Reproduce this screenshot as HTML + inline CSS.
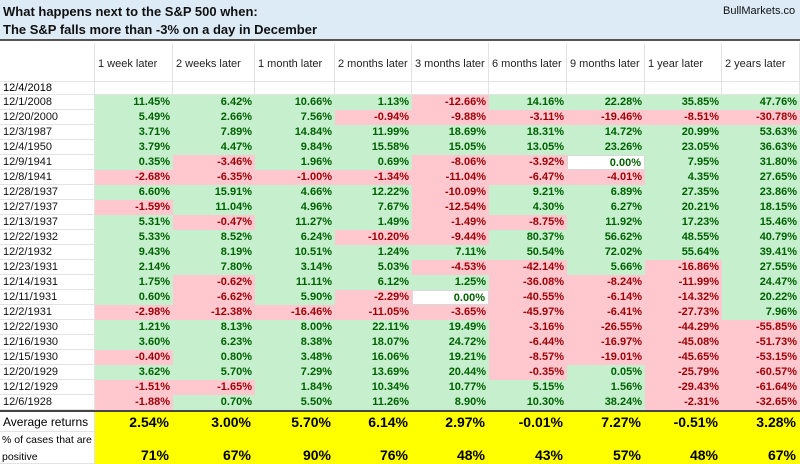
<!DOCTYPE html>
<html><head><meta charset="utf-8"><style>
body{margin:0;width:800px;height:464px;overflow:hidden;background:#fff;font-family:"Liberation Sans",sans-serif;}
#wrap{position:relative;width:800px;height:464px;}
.c{position:absolute;box-sizing:border-box;font-size:11px;white-space:nowrap;overflow:hidden;}
.g{background:#c6efce;color:#006100;font-weight:bold;text-align:right;padding-right:3px;}
.r{background:#ffc7ce;color:#9c0006;font-weight:bold;text-align:right;padding-right:3px;}
.w{background:#fff;color:#006100;font-weight:bold;text-align:right;padding-right:3px;border:1px solid #d9d9d9;}
.e{border-right:1px solid #e3e3e3;border-bottom:1px solid #e3e3e3;}
.y{background:#ffff00;color:#000;font-weight:bold;text-align:right;padding-right:4px;font-size:14px;}
</style></head><body><div id="wrap">
<div class="c" style="left:0;top:0;width:800px;height:41px;background:#ddebf7;border-bottom:2px solid #555;"></div>
<div class="c" style="left:3px;top:3px;font-size:13px;font-weight:bold;color:#111;line-height:18px;">What happens next to the S&amp;P 500 when:<br>The S&amp;P falls more than -3% on a day in December</div>
<div class="c" style="left:723px;top:5px;font-size:11px;color:#111;">BullMarkets.co</div>
</div>
<script>
const headers=["1 week later","2 weeks later","1 month later","2 months later","3 months later","6 months later","9 months later","1 year later","2 years later"];
const dates=["12/1/2008","12/20/2000","12/3/1987","12/4/1950","12/9/1941","12/8/1941","12/28/1937","12/27/1937","12/13/1937","12/22/1932","12/2/1932","12/23/1931","12/14/1931","12/11/1931","12/2/1931","12/22/1930","12/16/1930","12/15/1930","12/20/1929","12/12/1929","12/6/1928"];
const values=[
[11.45,6.42,10.66,1.13,-12.66,14.16,22.28,35.85,47.76],
[5.49,2.66,7.56,-0.94,-9.88,-3.11,-19.46,-8.51,-30.78],
[3.71,7.89,14.84,11.99,18.69,18.31,14.72,20.99,53.63],
[3.79,4.47,9.84,15.58,15.05,13.05,23.26,23.05,36.63],
[0.35,-3.46,1.96,0.69,-8.06,-3.92,0.00,7.95,31.80],
[-2.68,-6.35,-1.00,-1.34,-11.04,-6.47,-4.01,4.35,27.65],
[6.60,15.91,4.66,12.22,-10.09,9.21,6.89,27.35,23.86],
[-1.59,11.04,4.96,7.67,-12.54,4.30,6.27,20.21,18.15],
[5.31,-0.47,11.27,1.49,-1.49,-8.75,11.92,17.23,15.46],
[5.33,8.52,6.24,-10.20,-9.44,80.37,56.62,48.55,40.79],
[9.43,8.19,10.51,1.24,7.11,50.54,72.02,55.64,39.41],
[2.14,7.80,3.14,5.03,-4.53,-42.14,5.66,-16.86,27.55],
[1.75,-0.62,11.11,6.12,1.25,-36.08,-8.24,-11.99,24.47],
[0.60,-6.62,5.90,-2.29,0.00,-40.55,-6.14,-14.32,20.22],
[-2.98,-12.38,-16.46,-11.05,-3.65,-45.97,-6.41,-27.73,7.96],
[1.21,8.13,8.00,22.11,19.49,-3.16,-26.55,-44.29,-55.85],
[3.60,6.23,8.38,18.07,24.72,-6.44,-16.97,-45.08,-51.73],
[-0.40,0.80,3.48,16.06,19.21,-8.57,-19.01,-45.65,-53.15],
[3.62,5.70,7.29,13.69,20.44,-0.35,0.05,-25.79,-60.57],
[-1.51,-1.65,1.84,10.34,10.77,5.15,1.56,-29.43,-61.64],
[-1.88,0.70,5.50,11.26,8.90,10.30,38.24,-2.31,-32.65]];
const averages=[2.54,3.00,5.70,6.14,2.97,-0.01,7.27,-0.51,3.28];
const positivePct=[71,67,90,76,48,43,57,48,67];
const W=document.getElementById('wrap');
const colX=[0,95,173,255,335,412,489,567,645,722,800];
const rowTop=95,rowH=15.0;
function cell(cls,x,y,w,h,txt,lh){const d=document.createElement('div');d.className='c '+cls;d.style.left=x+'px';d.style.top=y+'px';d.style.width=w+'px';d.style.height=h+'px';d.style.lineHeight=(lh||h)+'px';d.textContent=txt;W.appendChild(d);return d;}
let d=cell('e',0,43,95,39,'');


headers.forEach((h,i)=>{const x=colX[i+1];const el=cell('e',x,43,colX[i+2]-x,39,h,'14');el.style.paddingLeft='3px';el.style.paddingTop='14px';el.style.color='#222';

});
d=cell('e',0,82,95,13,'12/4/2018');d.style.paddingLeft='3px';


for(let i=0;i<9;i++){const e=cell('e',colX[i+1],82,colX[i+2]-colX[i+1],13,'');

}
dates.forEach((dt,r)=>{const y=Math.round(rowTop+r*rowH);const h=Math.round(rowTop+(r+1)*rowH)-y;const l=cell('e',0,y,95,h,dt);l.style.paddingLeft='3px';l.style.color='#111';


values[r].forEach((v,i)=>{const cls=v>0?'g':(v<0?'r':'w');const x=colX[i+1];const c=cell(cls,x,y,colX[i+2]-x,h,v.toFixed(2)+'%');

});});
const footTop=Math.round(rowTop+dates.length*rowH);
d=cell('',0,footTop,800,2,'');d.style.background='#444';


d=cell('e',0,footTop+2,95,20,'Average returns');d.style.paddingLeft='3px';d.style.fontSize='12px';


d=cell('e',0,footTop+22,95,464-footTop-22,'');d.style.paddingLeft='2px';d.style.fontSize='10.5px';d.style.lineHeight='17px';d.innerHTML='% of cases that are<br>positive';


averages.forEach((v,i)=>{const x=colX[i+1];const c=cell('y',x,footTop+2,colX[i+2]-x,20,v.toFixed(2)+'%');

});
positivePct.forEach((v,i)=>{const x=colX[i+1];const h=464-footTop-22;const c=cell('y',x,footTop+22,colX[i+2]-x,h,v+'%');c.style.lineHeight=(h*1.45)+'px';

});
</script></body></html>
